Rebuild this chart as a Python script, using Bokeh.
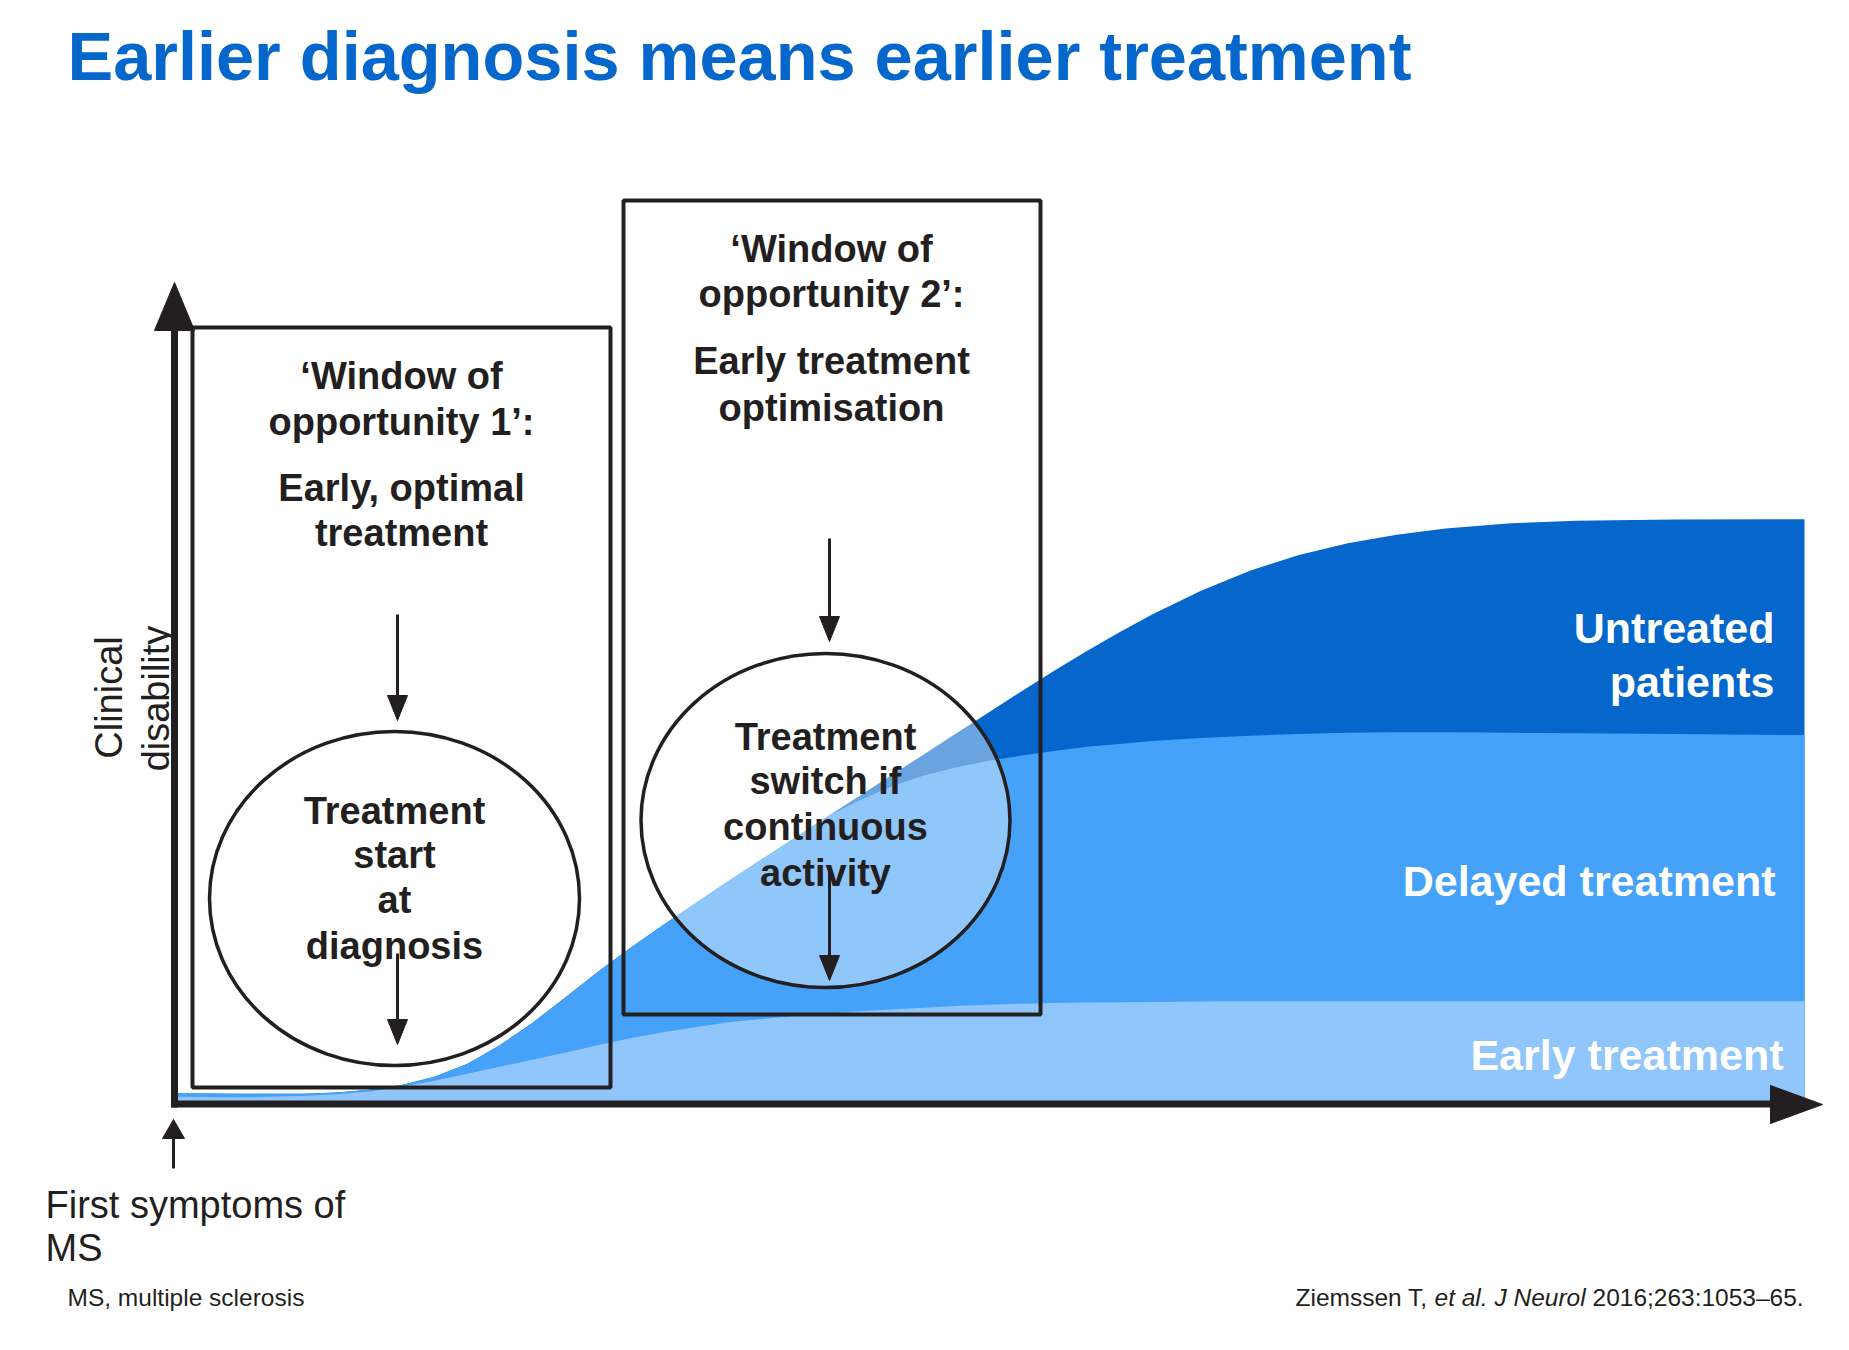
import math
from bokeh.plotting import figure
from bokeh.core.properties import value
from bokeh.embed import file_html
from bokeh.resources import INLINE

# ---------------- data ----------------
time = [0, 4, 8, 10, 12, 14, 16, 18, 20, 22, 24, 26, 28, 30, 34, 38, 40, 42, 44, 46,
        48, 50, 52, 54, 56, 58, 60, 63, 66, 69, 72, 75, 78, 82, 86, 92, 100]
untreated = [1.6, 1.5, 1.5, 1.7, 2.2, 3.0, 4.4, 6.6, 9.8, 13.6, 17.9, 22.3, 26.4, 30.3, 37.8, 45.1, 48.7, 52.3, 55.9, 59.5,
             63.1, 66.7, 70.3, 73.8, 77.2, 80.4, 83.4, 87.5, 90.9, 93.6, 95.6, 97.05, 98.1, 99.0, 99.45, 99.65, 99.7]
delayed = [1.6, 1.5, 1.5, 1.7, 2.2, 3.0, 4.4, 6.6, 9.8, 13.6, 17.9, 22.3, 26.4, 30.3, 37.8, 45.1, 48.7, 51.6, 54.0, 55.9,
           57.3, 58.4, 59.3, 60.1, 60.8, 61.3, 61.8, 62.3, 62.7, 63.0, 63.2, 63.3, 63.3, 63.2, 63.1, 63.0, 62.8]
early = [1.0, 0.9, 1.1, 1.4, 1.9, 2.7, 3.7, 4.9, 6.1, 7.3, 8.5, 9.8, 11.0, 12.0, 13.7, 14.8, 15.2, 15.6, 15.9, 16.2,
         16.5, 16.7, 16.9, 17.0, 17.1, 17.15, 17.2, 17.25, 17.3, 17.3, 17.3, 17.3, 17.3, 17.3, 17.3, 17.3, 17.3]

series_names = ["Untreated", "Delayed treatment", "Early treatment"]
series_colors = ["#0566CC", "#46A2F8", "#90C6FB"]

title_text = "Earlier diagnosis means earlier treatment"
window1_lines = ["\u2018Window of", "opportunity 1\u2019:", "Early, optimal", "treatment"]
window2_lines = ["\u2018Window of", "opportunity 2\u2019:", "Early treatment", "optimisation"]
circle1_lines = ["Treatment", "start", "at", "diagnosis"]
circle2_lines = ["Treatment", "switch if", "continuous", "activity"]
ylabel_lines = ["Clinical", "disability"]
xlabel_lines = ["First symptoms of", "MS"]
footnote = "MS, multiple sclerosis"
citation_parts = ["Ziemssen T,", "et al. J Neurol", "2016;263:1053\u201365."]

# ---------------- layout helpers (reference pixel -> data units) ----------------
W, H = 1833, 1334
X0_PX, Y0_PX = 173.0, 1102.0
SX, SY = 16.31, 5.85


def dx(px):
    return (px - X0_PX) / SX


def dy(py):
    return (Y0_PX - py) / SY


FONT = value("Liberation Sans")
INK = "#231F20"

p = figure(width=W, height=H, x_range=(dx(0), dx(W)), y_range=(dy(H), dy(0)),
           output_backend="svg", toolbar_location=None, x_axis_location=None, y_axis_location=None,
           min_border=0, min_border_left=0, min_border_right=0, min_border_top=0, min_border_bottom=0)
p.grid.visible = False
p.outline_line_color = None
p.background_fill_color = "white"
p.border_fill_color = "white"

# ---------------- stacked areas ----------------
zeros = [0] * len(time)
for vals, col in zip([untreated, delayed, early], series_colors):
    p.varea(x=time, y1=zeros, y2=vals, fill_color=col, fill_alpha=1.0)

# ---------------- boxes and ellipses ----------------
p.ellipse(x=[dx(394), dx(825)], y=[dy(898), dy(820)], width=[370 / SX, 369 / SX], height=[334 / SY, 334 / SY],
          fill_color="white", fill_alpha=0.4, line_color=INK, line_width=3.5)
p.quad(left=[dx(192), dx(623)], right=[dx(610), dx(1040)], top=[dy(327), dy(200)], bottom=[dy(1087), dy(1014)],
       fill_color=None, line_color=INK, line_width=4)

# ---------------- arrows ----------------
# inner arrows: (x, y_start, y_tip)
inner = [(397, 614, 720), (397, 953, 1044), (829, 538, 641), (829, 872, 980)]
p.segment(x0=[dx(a[0]) for a in inner], y0=[dy(a[1]) for a in inner],
          x1=[dx(a[0]) for a in inner], y1=[dy(a[2] - 20) for a in inner], line_color=INK, line_width=3)
p.patches(xs=[[dx(a[0] - 10), dx(a[0] + 10), dx(a[0])] for a in inner],
          ys=[[dy(a[2] - 25), dy(a[2] - 25), dy(a[2])] for a in inner], fill_color=INK, line_color=INK, line_width=1)

# axes
p.segment(x0=[dx(174), dx(171)], y0=[dy(1107), dy(1103.5)], x1=[dx(174), dx(1772)], y1=[dy(328), dy(1103.5)],
          line_color=INK, line_width=7, line_cap="butt")
p.patches(xs=[[dx(154), dx(194), dx(174)], [dx(1770), dx(1770), dx(1822)]],
          ys=[[dy(330), dy(330), dy(282)], [dy(1085), dy(1123), dy(1104)]], fill_color=INK, line_color=INK)
# small arrow under origin
p.segment(x0=[dx(173)], y0=[dy(1168)], x1=[dx(173)], y1=[dy(1136)], line_color=INK, line_width=3)
p.patches(xs=[[dx(162), dx(184), dx(173)]], ys=[[dy(1138), dy(1138), dy(1119)]], fill_color=INK, line_color=INK)

# ---------------- texts ----------------
def txt(xs, ys, texts, size, color=INK, style="bold", align="center", baseline="middle", angle=0.0):
    p.text(x=xs, y=ys, text=texts, text_font=FONT, text_font_size=value(size), text_font_style=style,
           text_color=color, text_align=align, text_baseline=baseline, angle=angle)


txt([dx(67)], [dy(56)], [title_text], "68.5px", color="#0566CC", align="left")

txt([dx(401)] * 4, [dy(v) for v in (375, 421, 487, 532)], window1_lines, "38px")
txt([dx(831)] * 4, [dy(v) for v in (248, 293, 360, 407)], window2_lines, "38px")
txt([dx(394)] * 4, [dy(v) for v in (810, 854, 899, 945)], circle1_lines, "38px")
txt([dx(825)] * 4, [dy(v) for v in (736, 780, 826, 872)], circle2_lines, "38px")

# series labels
txt([dx(1774), dx(1774)], [dy(627), dy(681)], ["Untreated", "patients"], "43px", color="white", align="right")
txt([dx(1775)], [dy(880)], [series_names[1]], "43px", color="white", align="right")
txt([dx(1783)], [dy(1054)], [series_names[2]], "43px", color="white", align="right")

# axis labels
txt([dx(108), dx(155)], [dy(697), dy(698)], ylabel_lines, "38px", style="normal", angle=math.pi / 2)
txt([dx(45), dx(45)], [dy(1204), dy(1247)], xlabel_lines, "38px", style="normal", align="left")

# footnote and citation
txt([dx(67)], [dy(1297)], [footnote], "24.5px", style="normal", align="left")
txt([dx(1295)], [dy(1297)], [citation_parts[0]], "24.5px", style="normal", align="left")
txt([dx(1434)], [dy(1297)], [citation_parts[1]], "24.5px", style="italic", align="left")
txt([dx(1592)], [dy(1297)], [citation_parts[2]], "24.5px", style="normal", align="left")

open("out.html", "w").write(file_html(p, INLINE))
